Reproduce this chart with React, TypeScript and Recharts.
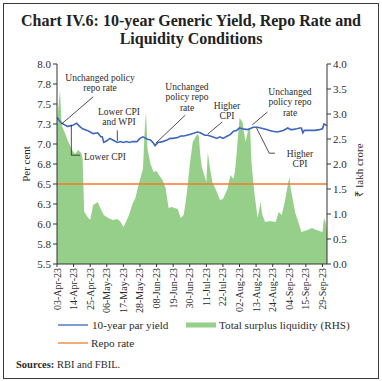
import { ComposedChart, Area, Line, XAxis, YAxis, ReferenceLine } from 'recharts';

// day index counted from 03-Apr-23
const xTickDays = [0, 11, 22, 33, 44, 55, 66, 77, 88, 99, 110, 121, 132, 143, 154, 165, 176];
const xTickLabels = [
  '03-Apr-23', '14-Apr-23', '25-Apr-23', '06-May-23', '17-May-23', '28-May-23', '08-Jun-23', '19-Jun-23',
  '30-Jun-23', '11-Jul-23', '22-Jul-23', '02-Aug-23', '13-Aug-23', '24-Aug-23', '04-Sep-23', '15-Sep-23', '29-Sep-23',
];

const leftTicks = [5.5, 5.75, 6.0, 6.25, 6.5, 6.75, 7.0, 7.25, 7.5, 7.75, 8.0];
const rightTicks = [0, 0.5, 1.0, 1.5, 2.0, 2.5, 3.0, 3.5, 4.0];

const yieldDays = [
  0, 3, 7, 10, 13, 15, 17, 20, 22, 24, 27, 29, 30, 31, 33, 35, 37, 40, 42, 44, 46, 48, 50, 53, 55, 57, 60, 62,
  64, 65, 67, 70, 73, 75, 77, 80, 82, 84, 86, 88, 90, 93, 95, 98, 100, 103, 106, 108, 110, 113, 115, 117, 119,
  121, 123, 126, 128, 130, 133, 135, 137, 139, 141, 143, 146, 148, 150, 153, 155, 156, 159, 161, 162, 163, 164,
  168, 171, 174, 176, 177, 179,
];
const yieldValues = [
  7.33, 7.26, 7.22, 7.23, 7.26, 7.22, 7.19, 7.17, 7.15, 7.13, 7.14, 7.09, 7.09, 7.02, 7.04, 7.07, 7.05, 7.02,
  7.03, 7.02, 7.03, 7.02, 7.03, 7.03, 7.07, 7.09, 7.06, 7.05, 7.01, 6.98, 7.02, 7.03, 7.05, 7.07, 7.07, 7.08,
  7.1, 7.1, 7.11, 7.12, 7.13, 7.15, 7.14, 7.11, 7.11, 7.09, 7.07, 7.09, 7.07, 7.1, 7.12, 7.16, 7.17, 7.2, 7.19,
  7.18, 7.19, 7.21, 7.21, 7.2, 7.19, 7.18, 7.17, 7.16, 7.15, 7.16, 7.17, 7.2, 7.18, 7.18, 7.19, 7.2, 7.2, 7.14,
  7.17, 7.17, 7.17, 7.18, 7.19, 7.25, 7.23,
];

const liquidityDays = [
  0, 2, 3, 5, 7, 10, 12, 14, 16, 17, 18, 20, 22, 24, 27, 29, 31, 34, 37, 40, 42, 44, 46, 48, 50, 52, 54, 57,
  58, 59, 60, 62, 64, 66, 68, 70, 72, 74, 76, 80, 82, 84, 86, 88, 90, 93, 94, 95, 96, 97, 99, 100, 101, 103,
  106, 108, 110, 113, 115, 117, 118, 119, 121, 123, 125, 127, 128, 129, 131, 133, 135, 136, 138, 141, 145, 147,
  149, 151, 153, 154, 155, 158, 160, 162, 166, 169, 172, 176, 177, 178, 179,
];
const liquidityValues = [
  2.84, 3.48, 2.78, 2.64, 2.48, 2.28, 2.2, 2.28, 2.22, 2.1, 1.05, 0.95, 0.88, 1.18, 1.24, 1.1, 0.98, 0.92, 0.88,
  0.9, 0.85, 0.74, 0.86, 1.0, 1.2, 1.32, 1.58, 1.9, 2.6, 3.04, 2.3, 2.0, 1.84, 1.86, 1.76, 1.68, 1.52, 1.12,
  1.14, 1.1, 0.92, 0.98, 1.4, 1.98, 2.44, 2.6, 2.56, 2.18, 1.94, 1.84, 1.64, 2.24, 2.0, 1.64, 1.44, 1.28, 1.3,
  1.5, 1.78, 1.7, 1.86, 2.18, 2.92, 2.84, 2.44, 2.72, 2.72, 2.0, 1.38, 0.92, 1.24, 1.0, 0.84, 0.86, 0.84, 1.04,
  0.98, 1.24, 1.58, 1.74, 1.5, 1.02, 0.84, 0.64, 0.68, 0.72, 0.68, 0.64, 0.92, 0.85, 0.65,
];

const repoRate = 6.5;

const yieldData = yieldDays.map((d, i) => ({ day: d, value: yieldValues[i] }));
const liquidityData = liquidityDays.map((d, i) => ({ day: d, value: liquidityValues[i] }));

// callout leader lines, in (day, per cent)
const leaders = [
  [{ x: 3, y: 7.25 }, { x: 24, y: 7.59 }],
  [{ x: 9.5, y: 7.24 }, { x: 9.5, y: 6.86 }],
  [{ x: 9.5, y: 6.86 }, { x: 15.3, y: 6.86 }],
  [{ x: 40, y: 7.17 }, { x: 40, y: 7.04 }],
  [{ x: 65.5, y: 7.01 }, { x: 85, y: 7.36 }],
  [{ x: 100, y: 7.125 }, { x: 109.5, y: 7.275 }],
  [{ x: 129.5, y: 7.24 }, { x: 139.5, y: 7.4 }],
  [{ x: 132.3, y: 7.2 }, { x: 140.7, y: 6.885 }],
  [{ x: 140.7, y: 6.885 }, { x: 144.5, y: 6.885 }],
];

const notes = [
  { x: 100, y: 81, anchor: 'middle', lines: ['Unchanged policy', 'repo rate'] },
  { x: 84, y: 160, anchor: 'start', lines: ['Lower CPI'] },
  { x: 119, y: 115, anchor: 'middle', lines: ['Lower CPI', 'and WPI'] },
  { x: 187, y: 90, anchor: 'middle', lines: ['Unchanged', 'policy repo', 'rate'] },
  { x: 227, y: 109, anchor: 'middle', lines: ['Higher', 'CPI'] },
  { x: 290, y: 95, anchor: 'middle', lines: ['Unchanged', 'policy repo', 'rate'] },
  { x: 300, y: 157, anchor: 'middle', lines: ['Higher', 'CPI'] },
];

const FONT = '"Liberation Serif", serif';
const INK = '#2b2b2b';
const AXIS = '#333';
const GREEN = '#96cf8a';
const BLUE = '#3d66bd';
const ORANGE = '#ef7d2c';

const XTick = ({ x, y, payload }: any) => {
  const i = xTickDays.indexOf(payload.value);
  return (
    <text
      transform={`translate(${x},${y}) rotate(-90)`}
      textAnchor="end"
      dy="0.35em"
      fontSize={10}
      fontFamily={FONT}
      fill={INK}
    >
      {xTickLabels[i]}
    </text>
  );
};

export default function App() {
  return (
    <div style={{ position: 'fixed', left: 0, top: 0, width: 382, height: 381, background: '#fff', fontFamily: FONT }}>
      <div style={{ position: 'absolute', left: 3, top: 3, width: 374, height: 374, border: '1.5px solid #3a3a3a' }} />
      <div
        style={{
          position: 'absolute', left: 0, top: 12, width: 382, textAlign: 'center', fontWeight: 'bold',
          fontSize: 16, lineHeight: '18px', color: '#222',
        }}
      >
        Chart IV.6: 10-year Generic Yield, Repo Rate and
        <br />
        Liquidity Conditions
      </div>
      <div style={{ position: 'absolute', left: 0, top: 0 }}>
        <ComposedChart width={382} height={381} margin={{ top: 64, right: 10, bottom: 67, left: 10 }}>
          <XAxis
            dataKey="day"
            type="number"
            domain={[0, 179]}
            ticks={xTickDays}
            interval={0}
            tick={<XTick />}
            tickSize={3}
            tickMargin={1}
            height={50}
            stroke={AXIS}
            allowDuplicatedCategory={false}
          />
          <YAxis
            yAxisId="left"
            domain={[5.5, 8]}
            ticks={leftTicks}
            interval={0}
            tickFormatter={(v: number) => v.toFixed(1)}
            width={47}
            tickSize={4}
            tickMargin={2}
            stroke={AXIS}
            tick={{ fontSize: 11, fontFamily: FONT, fill: INK }}
          />
          <YAxis
            yAxisId="right"
            orientation="right"
            domain={[0, 4]}
            ticks={rightTicks}
            interval={0}
            tickFormatter={(v: number) => v.toFixed(1)}
            width={45}
            tickSize={4}
            tickMargin={2}
            stroke={AXIS}
            tick={{ fontSize: 11, fontFamily: FONT, fill: INK }}
          />
          <Area
            yAxisId="right"
            data={liquidityData}
            dataKey="value"
            type="linear"
            stroke="none"
            fill={GREEN}
            fillOpacity={1}
            isAnimationActive={false}
          />
          <ReferenceLine yAxisId="left" y={repoRate} stroke={ORANGE} strokeWidth={1.3} />
          <Line
            yAxisId="left"
            data={yieldData}
            dataKey="value"
            type="linear"
            stroke={BLUE}
            strokeWidth={1.6}
            dot={false}
            isAnimationActive={false}
          />
          {leaders.map((seg, i) => (
            <ReferenceLine key={i} yAxisId="left" segment={seg} stroke="#222" strokeWidth={0.8} />
          ))}
        </ComposedChart>
      </div>
      <svg width={382} height={381} style={{ position: 'absolute', left: 0, top: 0, pointerEvents: 'none' }}>
        <g fontFamily={FONT} fontSize={9.5} fill={INK}>
          {notes.map((n, i) => (
            <text key={i} x={n.x} y={n.y} textAnchor={n.anchor}>
              {n.lines.map((l, j) => (
                <tspan key={j} x={n.x} dy={j === 0 ? 0 : 10.3}>
                  {l}
                </tspan>
              ))}
            </text>
          ))}
        </g>
        <g fontFamily={FONT} fontSize={11} fill={INK}>
          <text transform="translate(30,164) rotate(-90)" textAnchor="middle">Per cent</text>
          <text transform="translate(363,170) rotate(-90)" textAnchor="middle">₹ lakh crore</text>
        </g>
        <g fontFamily={FONT} fontSize={11.2} fill={INK}>
          <line x1={58} x2={88} y1={325} y2={325} stroke={BLUE} strokeWidth={1.3} />
          <text x={92} y={328.8}>10-year par yield</text>
          <rect x={186} y={322.5} width={30} height={5} fill={GREEN} />
          <text x={219} y={328.8}>Total surplus liquidity (RHS)</text>
          <line x1={58} x2={88} y1={343} y2={343} stroke={ORANGE} strokeWidth={1.3} />
          <text x={91} y={346.8}>Repo rate</text>
        </g>
        <text x={16} y={367.5} fontFamily={FONT} fontSize={10.5} fill={INK}>
          <tspan fontWeight="bold">Sources:</tspan> RBI and FBIL.
        </text>
      </svg>
    </div>
  );
}
